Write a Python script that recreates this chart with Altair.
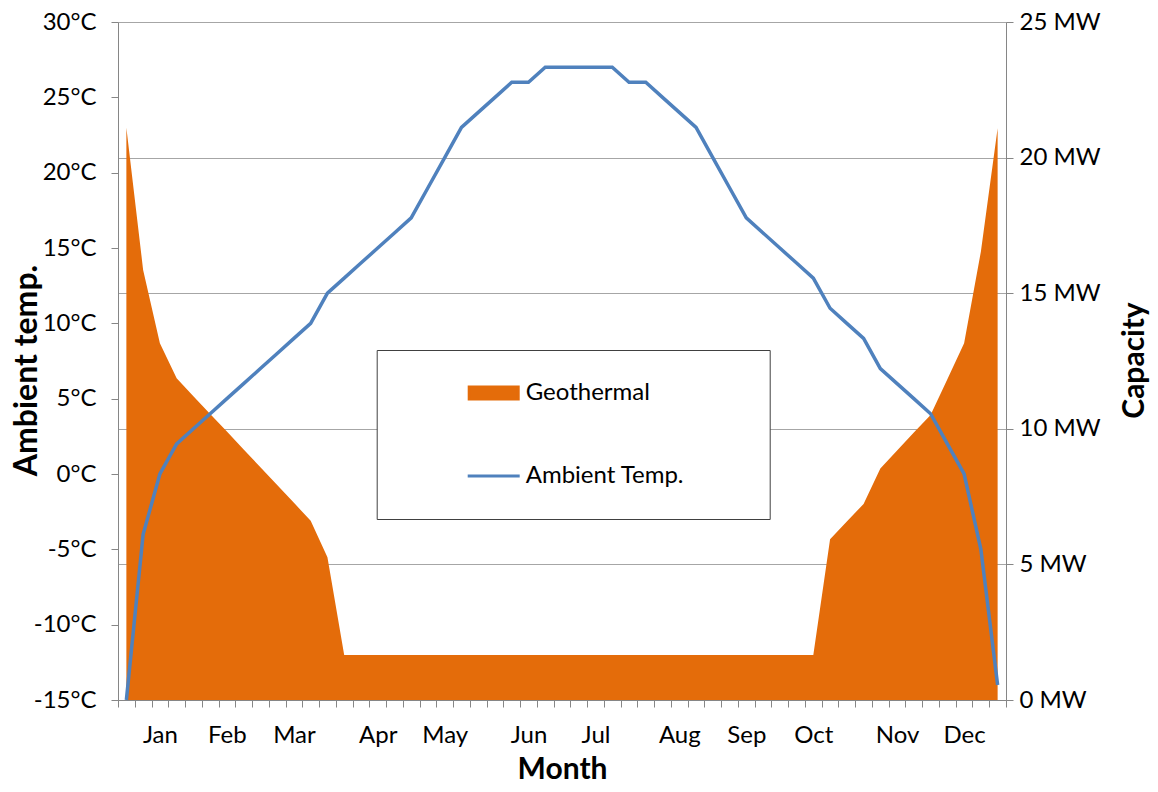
import altair as alt
import pandas as pd

# ---- data ----
weeks = list(range(53))
temp_c = [-15, -4, 0, 2, 3, 4, 5, 6, 7, 8, 9, 10, 12, 13, 14, 15, 16, 17, 19, 21,
          23, 24, 25, 26, 26, 27, 27, 27, 27, 27, 26, 26, 25, 24, 23, 21, 19, 17,
          16, 15, 14, 13, 11, 10, 9, 7, 6, 5, 4, 2, 0, -5, -14]
geo_mw = [21.1, 15.86, 13.15, 11.86, 11.2, 10.55, 9.9, 9.24, 8.58, 7.93, 7.27, 6.61,
          5.26] + [1.66] * 29 + [5.93, 6.58, 7.23, 8.54, 9.2, 9.86, 10.51, 11.83,
          13.15, 16.53, 21.08]
month_names = ["Jan", "Feb", "Mar", "Apr", "May", "Jun", "Jul", "Aug", "Sep", "Oct", "Nov", "Dec"]
month_pos = [2, 6, 10, 15, 19, 24, 28, 33, 37, 41, 46, 50]
series_names = ["Geothermal", "Ambient Temp."]
series_colors = ["#E46C0A", "#4F81BD"]
temp_ticks = [-15, -10, -5, 0, 5, 10, 15, 20, 25, 30]
mw_ticks = [0, 5, 10, 15, 20, 25]

geo_df = pd.DataFrame({"week": weeks, "mw": geo_mw, "series": series_names[0]})
temp_df = pd.DataFrame({"week": weeks, "temp": temp_c, "series": series_names[1]})

boundaries = [i - 0.5 for i in range(len(weeks) + 1)]
x_values = boundaries + month_pos
x_label_expr = (f"indexof({month_pos}, datum.value) >= 0 ? "
                f"{month_names}[indexof({month_pos}, datum.value)] : ''")

FONT = "Lato"
AXIS_GREY = "#868686"
GRID_GREY = "#A6A6A6"

x_enc = alt.X(
    "week:Q",
    scale=alt.Scale(domain=[-0.5, len(weeks) - 0.5], nice=False, zero=False),
    axis=alt.Axis(
        values=x_values, labelExpr=x_label_expr, grid=False,
        tickSize=7, tickColor=AXIS_GREY, domainColor=AXIS_GREY,
        tickOpacity={"condition": {"test": "datum.value % 1 != 0", "value": 1}, "value": 0},
        labelOverlap=False, labelFlush=False, labelPadding=16,
        labelFontSize=24, labelFont=FONT, labelColor="black",
        title="Month", titleFontSize=30, titleFont=FONT, titleFontWeight="bold",
        titleColor="black", titleX=444, titleY=78, titleBaseline="alphabetic",
        titleAnchor="middle",
    ),
)

color_scale = alt.Scale(domain=series_names, range=series_colors)
is_geo = f"datum.value === '{series_names[0]}'"
# blank (non-whitespace) characters widen the legend frame on its right side
blank_tail = "\u2800\u2800\u2800"
legend = alt.Legend(
    title=None, orient="none", legendX=258.7, legendY=328, direction="vertical",
    padding=31, fillColor="white", strokeColor="#404040",
    symbolSize=400, symbolOffset=74, labelOffset=20, rowPadding=59,
    symbolType={"expr": f"{is_geo} ? 'M-2.45,-0.6H2.45V0.6H-2.45Z' : 'M-2.6,0H2.6'"},
    symbolFillColor={"expr": f"{is_geo} ? '{series_colors[0]}' : 'transparent'"},
    symbolStrokeColor={"expr": f"{is_geo} ? '{series_colors[0]}' : '{series_colors[1]}'"},
    symbolStrokeWidth=3, symbolOpacity=1,
    labelExpr=f"datum.label === '{series_names[1]}' ? datum.label + '{blank_tail}' : datum.label",
    labelFontSize=24, labelFont=FONT, labelColor="black", labelLimit=500,
)

area = alt.Chart(geo_df).mark_area(interpolate="linear").encode(
    x=x_enc,
    y=alt.Y(
        "mw:Q",
        scale=alt.Scale(domain=[0, 25], nice=False),
        axis=alt.Axis(
            orient="right", values=mw_ticks, labelExpr="datum.value + ' MW'",
            grid=True, gridColor=GRID_GREY, gridWidth=1,
            tickSize=7, tickColor=AXIS_GREY, domainColor=AXIS_GREY,
            labelPadding=6, labelFontSize=24, labelFont=FONT, labelColor="black",
            title="Capacity", titleFontSize=30, titleFont=FONT, titleFontWeight="bold",
            titleColor="black", titleAngle=270, titleX=137, titleY=338,
            titleAlign="center", titleBaseline="alphabetic",
        ),
    ),
    color=alt.Color("series:N", scale=color_scale, legend=legend),
)

line = alt.Chart(temp_df).mark_line(strokeWidth=3.5).encode(
    x=x_enc,
    y=alt.Y(
        "temp:Q",
        scale=alt.Scale(domain=[-15, 30], nice=False, zero=False),
        axis=alt.Axis(
            orient="left", values=temp_ticks, labelExpr="datum.value + '°C'",
            grid=False, tickSize=7, tickColor=AXIS_GREY, domainColor=AXIS_GREY,
            labelPadding=15, labelFontSize=24, labelFont=FONT, labelColor="black",
            title="Ambient temp.", titleFontSize=32, titleFont=FONT, titleFontWeight="bold",
            titleColor="black", titleAngle=270, titleX=-82, titleY=348,
            titleAlign="center", titleBaseline="alphabetic",
        ),
    ),
    color=alt.Color("series:N", scale=color_scale, legend=legend),
)

chart = alt.layer(area, line).resolve_scale(y="independent").properties(
    width=888, height=678,
    padding={"left": 110, "top": 14, "right": 144, "bottom": 84},
    autosize=alt.AutoSizeParams(type="none"),
).configure_view(stroke=None).configure(font=FONT)

chart.save("out.html", embed_options={"renderer": "svg", "actions": False})
